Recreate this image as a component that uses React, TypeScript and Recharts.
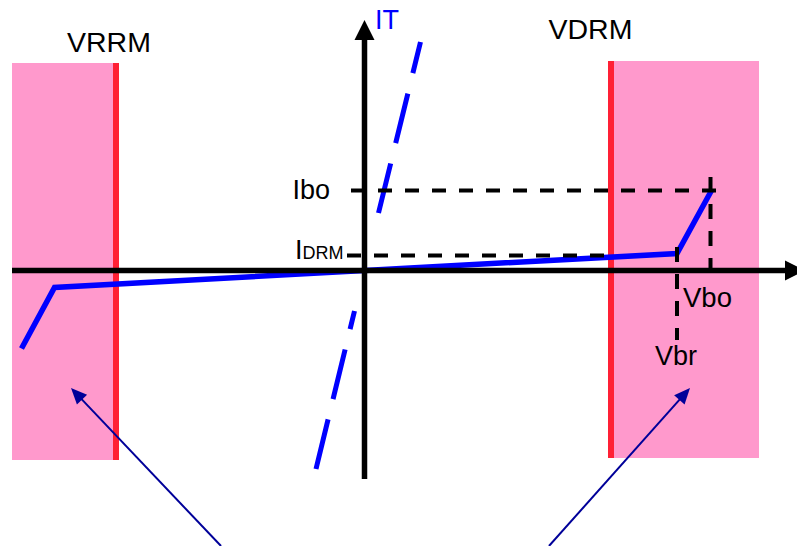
import React from "react";
import {
  ComposedChart,
  XAxis,
  YAxis,
  Line,
  ReferenceArea,
  ReferenceLine,
  ReferenceDot,
} from "recharts";

// Thyristor I-V characteristic, arbitrary units, origin at the axis crossing
const blockingCurve = [
  { v: -343, i: -78 },
  { v: -310, i: -17 },
  { v: 0, i: 0 },
  { v: 312.5, i: 17 },
  { v: 347, i: 80 },
];
const onStateUpper = [
  { v: 14, i: 57.5 },
  { v: 56, i: 228.5 },
];
const onStateLower = [
  { v: -48.5, i: -198.5 },
  { v: -10, i: -40.5 },
];

// pink voltage zones with their red limit line
const zones = [
  { name: "VRRM", from: -352.5, to: -248.5, top: 207.5, bottom: -189.5, edge: -248.5 },
  { name: "VDRM", from: 246.5, to: 394.5, top: 209.5, bottom: -187.5, edge: 246.5 },
];

// dashed guide lines
const currentLevels = [
  { name: "Ibo", i: 80, from: -13.5, to: 358.5 },
  { name: "IDRM", i: 15, from: -17.5, to: 245.5 },
];
const voltageLevels = [
  { name: "Vbo", v: 346, from: 93.5, to: 0 },
  { name: "Vbr", v: 312.5, from: 23.5, to: -69.5 },
];

const labels = [
  { text: "VRRM", v: -255.5, i: 218.5, anchor: "middle", color: "#000", size: 28.5 },
  { text: "VDRM", v: 226, i: 231.5, anchor: "middle", color: "#000", size: 28.5 },
  { text: "IT", v: 10.5, i: 241.5, anchor: "start", color: "#0000ff", size: 27 },
  { text: "Ibo", v: -34.5, i: 71.5, anchor: "end", color: "#000", size: 27 },
  { text: "Vbo", v: 318.5, i: -36.5, anchor: "start", color: "#000", size: 27.5 },
  { text: "Vbr", v: 290.5, i: -94.5, anchor: "start", color: "#000", size: 27 },
];

const pointerArrows = [
  { from: { v: -143.5, i: -275.5 }, to: { v: -293.5, i: -117.5 } },
  { from: { v: 184.5, i: -275.5 }, to: { v: 325.5, i: -117.5 } },
];

const axes = [
  { from: { v: -352.5, i: 0 }, to: { v: 440.5, i: 0 } },
  { from: { v: 0, i: -208.5 }, to: { v: 0, i: 250.5 } },
];

const FONT = "'Liberation Sans', Arial, sans-serif";

const arrowShape =
  (color: string, width: number, headLen: number, headHalf: number) =>
  (props: any) => {
    const { x1, y1, x2, y2 } = props;
    const dx = x2 - x1;
    const dy = y2 - y1;
    const len = Math.hypot(dx, dy);
    const ux = dx / len;
    const uy = dy / len;
    const bx = x2 - ux * headLen;
    const by = y2 - uy * headLen;
    const px = -uy * headHalf;
    const py = ux * headHalf;
    return (
      <g>
        <line x1={x1} y1={y1} x2={bx + ux} y2={by + uy} stroke={color} strokeWidth={width} />
        <polygon
          points={`${x2},${y2} ${bx + px},${by + py} ${bx - px},${by - py}`}
          fill={color}
        />
      </g>
    );
  };

const textShape = (l: (typeof labels)[number]) => (p: any) => (
  <text
    x={p.cx}
    y={p.cy}
    textAnchor={l.anchor as any}
    fill={l.color}
    fontSize={l.size}
    fontFamily={FONT}
  >
    {l.text}
  </text>
);

const idrmShape = (p: any) => (
  <text x={p.cx} y={p.cy} fill="#000" fontFamily={FONT}>
    <tspan fontSize={27}>I</tspan>
    <tspan fontSize={18}>DRM</tspan>
  </text>
);

export default function App() {
  return (
    <div style={{ position: "absolute", left: 0, top: 0 }}>
      <ComposedChart width={797} height={546} margin={{ top: 0, right: 0, bottom: 0, left: 0 }}>
        <XAxis type="number" dataKey="v" domain={[-364.5, 432.5]} hide allowDataOverflow />
        <YAxis type="number" dataKey="i" domain={[-275.5, 270.5]} hide allowDataOverflow />

        {zones.map((z) => (
          <ReferenceArea
            key={z.name}
            x1={z.from}
            x2={z.to}
            y1={z.bottom}
            y2={z.top}
            fill="#ff99cc"
            fillOpacity={1}
            stroke="none"
          />
        ))}
        {zones.map((z) => (
          <ReferenceLine
            key={z.name + "-edge"}
            segment={[
              { x: z.edge, y: z.bottom },
              { x: z.edge, y: z.top },
            ]}
            stroke="#ff2035"
            strokeWidth={6}
          />
        ))}

        <Line
          data={onStateUpper}
          dataKey="i"
          stroke="#0000ff"
          strokeWidth={5}
          strokeDasharray="51 21"
          dot={false}
          activeDot={false}
          isAnimationActive={false}
        />
        <Line
          data={onStateLower}
          dataKey="i"
          stroke="#0000ff"
          strokeWidth={5}
          strokeDasharray="51 21"
          dot={false}
          activeDot={false}
          isAnimationActive={false}
        />
        <Line
          data={blockingCurve}
          dataKey="i"
          stroke="#0000ff"
          strokeWidth={5.5}
          strokeLinejoin="miter"
          dot={false}
          activeDot={false}
          isAnimationActive={false}
        />

        {currentLevels.map((c) => (
          <ReferenceLine
            key={c.name}
            segment={[
              { x: c.from, y: c.i },
              { x: c.to, y: c.i },
            ]}
            stroke="#000"
            strokeWidth={4}
            strokeDasharray="14 13"
          />
        ))}
        {voltageLevels.map((c) => (
          <ReferenceLine
            key={c.name}
            segment={[
              { x: c.v, y: c.from },
              { x: c.v, y: c.to },
            ]}
            stroke="#000"
            strokeWidth={4}
            strokeDasharray="15 12"
          />
        ))}

        {axes.map((a, k) => (
          <ReferenceLine
            key={"axis" + k}
            segment={[
              { x: a.from.v, y: a.from.i },
              { x: a.to.v, y: a.to.i },
            ]}
            ifOverflow="visible"
            shape={arrowShape("#000", 5.5, 20, 10)}
          />
        ))}

        {labels.map((l) => (
          <ReferenceDot key={l.text} x={l.v} y={l.i} r={1} shape={textShape(l)} />
        ))}
        <ReferenceDot x={-69.5} y={11.5} r={1} shape={idrmShape} />

        {pointerArrows.map((a, k) => (
          <ReferenceLine
            key={"ptr" + k}
            segment={[
              { x: a.from.v, y: a.from.i },
              { x: a.to.v, y: a.to.i },
            ]}
            ifOverflow="visible"
            shape={arrowShape("#000099", 2, 16, 7)}
          />
        ))}
      </ComposedChart>
    </div>
  );
}
